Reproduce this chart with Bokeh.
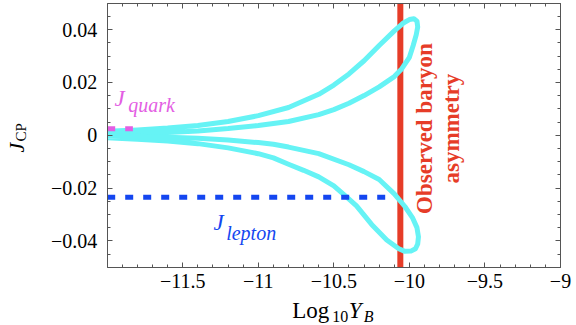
import math
from bokeh.plotting import figure
from bokeh.models import Label, LinearAxis, FixedTicker, Range1d
from bokeh.embed import file_html
from bokeh.resources import INLINE

# ---- data ----
upper_x = [-12.0, -11.8, -11.6, -11.4, -11.2, -11.0, -10.8, -10.6, -10.5, -10.4, -10.3, -10.2,
           -10.1, -10.04, -10.0, -9.97, -9.95, -9.945, -9.955, -9.975, -10.0, -10.05, -10.1,
           -10.2, -10.3, -10.4, -10.5, -10.6, -10.8, -11.0, -11.2, -11.4, -11.6, -11.8, -12.0]
upper_y = [0.0015, 0.0020, 0.0027, 0.0037, 0.0052, 0.0074, 0.0105, 0.0155, 0.0190, 0.0232, 0.0282, 0.0340,
           0.0395, 0.0425, 0.0438, 0.0441, 0.0432, 0.0410, 0.0380, 0.0340, 0.0295, 0.0252, 0.0222,
           0.0183, 0.0150, 0.0121, 0.0097, 0.0078, 0.0052, 0.0037, 0.0025, 0.0016, 0.0010, 0.0007, 0.0005]

lower_x = [-12.0, -11.8, -11.6, -11.4, -11.2, -11.0, -10.9, -10.8, -10.6, -10.4, -10.3, -10.2, -10.1,
           -10.03, -9.98, -9.95, -9.94, -9.945, -9.96, -9.99, -10.03, -10.07, -10.15, -10.25, -10.35,
           -10.42, -10.5, -10.6, -10.7, -10.8, -10.9, -11.0, -11.2, -11.4, -11.6, -11.8, -12.0]
lower_y = [-0.0002, -0.0004, -0.0008, -0.0012, -0.0018, -0.0028, -0.0034, -0.0045, -0.0070, -0.0112,
           -0.0138, -0.0168, -0.0222, -0.0270, -0.0312, -0.0350, -0.0385, -0.0412, -0.0430, -0.0439,
           -0.0440, -0.0430, -0.0397, -0.0338, -0.0268, -0.0232, -0.0192, -0.0158, -0.0133, -0.0110,
           -0.0086, -0.0070, -0.0048, -0.0032, -0.0022, -0.0015, -0.0010]

J_quark = 0.0024
quark_x = [-12.0, -11.83]
J_lepton = -0.0235
lepton_x = [-12.0, -10.1]
observed_log10YB = -10.06

x_bounds = (-12.0, -9.0)
y_bounds = (-0.05, 0.05)
x_ticks = [-11.5, -11.0, -10.5, -10.0, -9.5, -9.0]
x_tick_labels = ["\u221211.5", "\u221211", "\u221210.5", "\u221210", "\u22129.5", "\u22129"]
y_ticks = [-0.04, -0.02, 0.0, 0.02, 0.04]
y_tick_labels = ["\u22120.04", "\u22120.02", "0", "0.02", "0.04"]
x_minor = [round(-12.0 + 0.1 * i, 1) for i in range(31)]
y_minor = [round(-0.05 + 0.005 * i, 3) for i in range(21)]

CYAN = "#66f3f5"
RED = "#e63c28"
BLUE = "#1446f0"
MAGENTA = "#e35ee3"
SERIF = "Liberation Serif"
AX = "#555555"

W, H = 576, 325
PX_X = 151.1      # pixels per unit of log10 Y_B
PX_Y = 2640.0     # pixels per unit of J_CP
LEFT, ZERO_Y = 106.7, 134.7   # pixel position of x=-12 and of y=0
x0 = x_bounds[0] - LEFT / PX_X
y1 = ZERO_Y / PX_Y

# the frame covers the whole canvas; the axes are pinned to the plot box
p = figure(width=W, height=H, x_range=Range1d(x0, x0 + W / PX_X), y_range=Range1d(y1 - H / PX_Y, y1),
           output_backend="svg", toolbar_location=None,
           x_axis_location=None, y_axis_location=None,
           min_border_left=0, min_border_right=0, min_border_top=0, min_border_bottom=0)
p.outline_line_color = None
p.background_fill_color = "white"
p.border_fill_color = "white"
p.xgrid.visible = False
p.ygrid.visible = False


def make_axis(ticks, minor, labels, show, loc, bounds):
    ax = LinearAxis(ticker=FixedTicker(ticks=ticks, minor_ticks=minor), fixed_location=loc, bounds=bounds)
    ax.axis_line_color = AX
    ax.major_tick_line_color = AX
    ax.minor_tick_line_color = AX
    ax.major_tick_in = 5
    ax.major_tick_out = 0
    ax.minor_tick_in = 3
    ax.minor_tick_out = 0
    if show:
        ax.major_label_overrides = dict(zip(ticks, labels))
        ax.major_label_text_font = SERIF
        ax.major_label_text_font_size = "20px"
        ax.major_label_text_color = "black"
    else:
        ax.major_label_text_color = None
        ax.major_label_text_font_size = "1px"
        ax.major_label_standoff = 0
    return ax


bx = make_axis(x_ticks, x_minor, x_tick_labels, True, y_bounds[0], x_bounds)
bx.major_label_standoff = 7
lx = make_axis(y_ticks, y_minor, y_tick_labels, True, x_bounds[0], y_bounds)
lx.major_label_standoff = 10
p.add_layout(bx, "below")
p.add_layout(lx, "left")
p.add_layout(make_axis(x_ticks, x_minor, x_tick_labels, False, y_bounds[1], x_bounds), "above")
p.add_layout(make_axis(y_ticks, y_minor, y_tick_labels, False, x_bounds[1], y_bounds), "right")

# observed baryon asymmetry
p.line([observed_log10YB, observed_log10YB], list(y_bounds), line_color=RED, line_width=6)

# cyan loops
p.line(upper_x, upper_y, line_color=CYAN, line_width=5, line_join="round", line_cap="butt")
p.line(lower_x, lower_y, line_color=CYAN, line_width=5, line_join="round", line_cap="butt")

# J lines
p.line(quark_x, [J_quark, J_quark], line_color=MAGENTA, line_width=5, line_dash="8 10")
p.line(lepton_x, [J_lepton, J_lepton], line_color=BLUE, line_width=5, line_dash="8 10")


def lab(x, y, text, size, color="black", style="normal", angle=0.0, align="left", baseline="alphabetic"):
    p.add_layout(Label(x=x, y=y, text=text, text_font=SERIF, text_font_size=size,
                       text_font_style=style, text_color=color, angle=angle,
                       text_align=align, text_baseline=baseline))


lab(-11.952, 0.0139, "J", "23px", MAGENTA, "italic")
lab(-11.861, 0.0116, "quark", "20px", MAGENTA, "italic")
lab(-11.296, -0.0331, "J", "23px", BLUE, "italic")
lab(-11.2125, -0.0370, "lepton", "20px", BLUE, "italic")
lab(-9.903, 0.0025, "Observed baryon", "23px", RED, "bold", math.pi / 2, "center", "middle")
lab(-9.722, 0.0025, "asymmetry", "23px", RED, "bold", math.pi / 2, "center", "middle")

# y axis title J_CP
lab(-12.598, -0.0066, "J", "22px", "black", "italic", math.pi / 2)
lab(-12.570, -0.0024, "CP", "15px", "black", "normal", math.pi / 2)

# x axis title Log10 Y_B
lab(-10.776, -0.0664, "Log", "23px")
lab(-10.511, -0.0686, "10", "16px")
lab(-10.401, -0.0664, "Y", "23px", "black", "italic")
lab(-10.302, -0.0686, "B", "16px", "black", "italic")

open("out.html", "w").write(file_html(p, INLINE))
